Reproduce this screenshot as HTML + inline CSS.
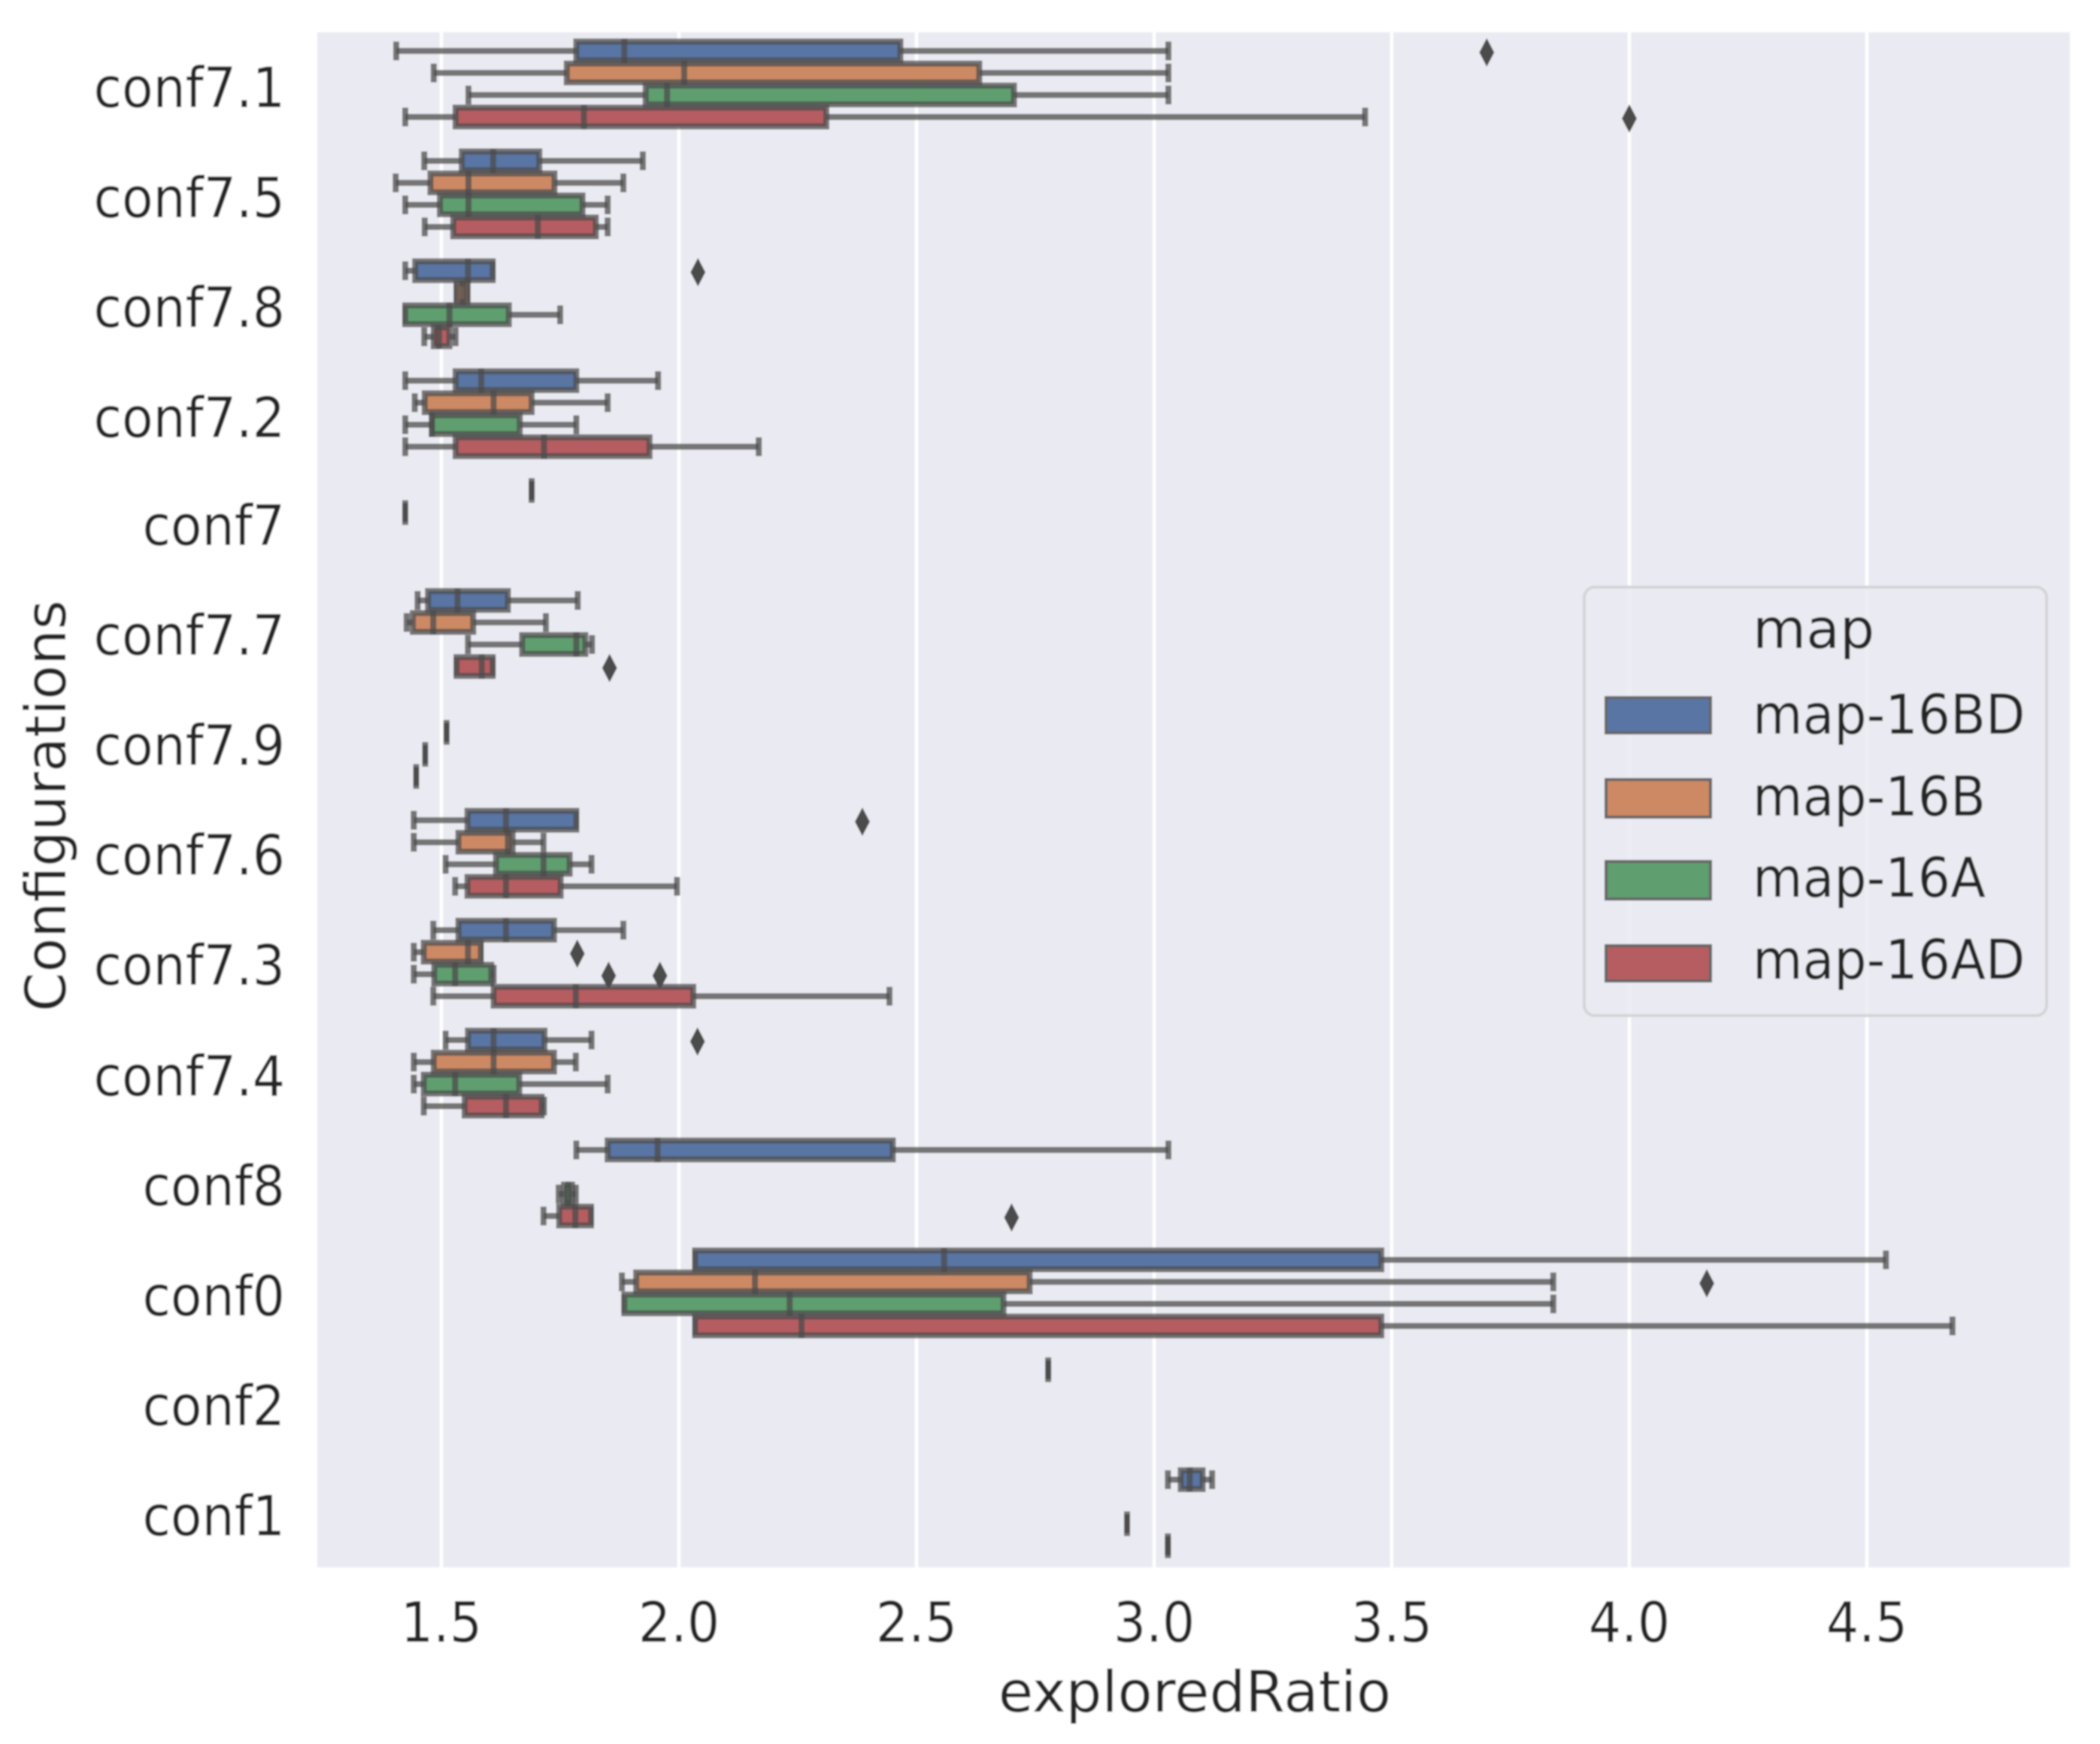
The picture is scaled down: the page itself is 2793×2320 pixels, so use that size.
<!DOCTYPE html>
<html>
<head>
<meta charset="utf-8">
<title>exploredRatio by configuration</title>
<style>
html,body{margin:0;padding:0;background:#fff;}
svg{display:block;}
text{font-family:"DejaVu Sans","Liberation Sans",sans-serif;fill:#262626;}
</style>
</head>
<body>
<svg id="chart" xmlns="http://www.w3.org/2000/svg" width="2793" height="2320" viewBox="0 0 2793 2320">
<defs>
<filter id="soft" filterUnits="userSpaceOnUse" x="0" y="0" width="2793" height="2320"><feGaussianBlur stdDeviation="1"/></filter>
</defs>
<g id="root" filter="url(#soft)">
<rect x="0" y="0" width="2793" height="2320" fill="#ffffff"/>
<rect x="422" y="43" width="2331" height="2042" fill="#eaeaf2"/>
<g id="grid"></g>
<g id="marks"></g>
<g id="yticks"></g>
<g id="xticks"></g>
<text x="1589" y="2277" font-size="75.5" text-anchor="middle">exploredRatio</text>
<text transform="translate(87,1072) rotate(-90)" font-size="75" text-anchor="middle">Configurations</text>
<g id="legend">
<rect x="2107" y="781" width="615" height="570" rx="14" ry="14" fill="#eaeaf2" fill-opacity="0.85" stroke="#d4d4d8" stroke-width="4"/>
<text transform="translate(2331,862) scale(1,1)" font-size="73">map</text>
<g>
<rect x="2136" y="928" width="139" height="47" fill="#5975a4" stroke="#666666" stroke-width="4"/>
<text transform="translate(2331,976) scale(0.935,1)" font-size="73">map-16BD</text>
</g>
<g>
<rect x="2136" y="1037" width="139" height="50" fill="#cc8963" stroke="#666666" stroke-width="4"/>
<text transform="translate(2331,1085) scale(0.935,1)" font-size="73">map-16B</text>
</g>
<g>
<rect x="2136" y="1146" width="139" height="50" fill="#5f9e6e" stroke="#666666" stroke-width="4"/>
<text transform="translate(2331,1193) scale(0.935,1)" font-size="73">map-16A</text>
</g>
<g>
<rect x="2136" y="1258" width="139" height="47" fill="#b55d60" stroke="#666666" stroke-width="4"/>
<text transform="translate(2331,1302) scale(0.935,1)" font-size="73">map-16AD</text>
</g>
</g>
</g>
</svg>
<script>
const categories = ["conf7.1","conf7.5","conf7.8","conf7.2","conf7","conf7.7","conf7.9","conf7.6","conf7.3","conf7.4","conf8","conf0","conf2","conf1"];
const hues = ["map-16BD","map-16B","map-16A","map-16AD"];
const xTickValues = [1.5,2.0,2.5,3.0,3.5,4.0,4.5];
const xTickLabels = ["1.5","2.0","2.5","3.0","3.5","4.0","4.5"];

// each entry: [whisker low, q1, median, q3, whisker high]; null = no data for that configuration
const statsBD = [
  [1.405,1.784,1.885,2.466,3.03],
  [1.464,1.543,1.609,1.706,1.924],
  [1.424,1.445,1.556,1.608,1.608],
  [1.424,1.53,1.584,1.784,1.956],
  [1.69,1.69,1.69,1.69,1.69],
  [1.45,1.472,1.534,1.64,1.787],
  null,
  [1.442,1.555,1.636,1.784,1.784],
  [1.483,1.536,1.636,1.737,1.883],
  [1.509,1.556,1.61,1.717,1.816],
  [1.784,1.85,1.955,2.45,3.03],
  [2.034,2.034,2.558,3.478,4.54],
  [2.777,2.777,2.777,2.777,2.777],
  [3.029,3.056,3.075,3.102,3.122]
];
const statsB = [
  [1.484,1.764,2.011,2.632,3.03],
  [1.404,1.477,1.557,1.738,1.883],
  [1.532,1.532,1.545,1.555,1.555],
  [1.444,1.465,1.61,1.69,1.85],
  [1.424,1.424,1.424,1.424,1.424],
  [1.427,1.44,1.483,1.567,1.72],
  [1.511,1.511,1.511,1.511,1.511],
  [1.442,1.536,1.64,1.65,1.715],
  [1.442,1.463,1.556,1.583,1.583],
  [1.442,1.484,1.61,1.737,1.783],
  null,
  [1.88,1.91,2.16,2.738,3.84],
  null,
  null
];
const statsA = [
  [1.557,1.93,1.975,2.705,3.03],
  [1.424,1.497,1.557,1.797,1.85],
  [1.424,1.424,1.517,1.642,1.75],
  [1.424,1.48,1.48,1.665,1.784],
  null,
  [1.556,1.67,1.784,1.803,1.817],
  [1.466,1.466,1.466,1.466,1.466],
  [1.509,1.615,1.715,1.77,1.816],
  [1.442,1.485,1.529,1.605,1.61],
  [1.442,1.463,1.529,1.664,1.85],
  [1.747,1.758,1.767,1.775,1.783],
  [1.885,1.885,2.233,2.683,3.84],
  null,
  [2.943,2.943,2.943,2.943,2.943]
];
const statsAD = [
  [1.424,1.53,1.80,2.31,3.444],
  [1.465,1.525,1.703,1.825,1.85],
  [1.464,1.484,1.495,1.517,1.53],
  [1.424,1.53,1.716,1.938,2.168],
  null,
  [1.532,1.532,1.585,1.608,1.608],
  [1.447,1.447,1.447,1.447,1.447],
  [1.529,1.555,1.636,1.751,1.996],
  [1.483,1.61,1.783,2.03,2.443],
  [1.463,1.549,1.636,1.711,1.716],
  [1.715,1.748,1.782,1.815,1.815],
  [2.034,2.034,2.258,3.478,4.68],
  null,
  [3.029,3.029,3.029,3.029,3.029]
];

// outliers as [category index, value]
const fliersBD = [[0,3.70],[2,2.04],[7,2.386],[9,2.039]];
const fliersB = [[8,1.786],[11,4.163]];
const fliersA = [[8,1.852],[8,1.96]];
const fliersAD = [[0,4.0],[5,1.854],[10,2.70]];

const seriesStats = [statsBD,statsB,statsA,statsAD];
const seriesFliers = [fliersBD,fliersB,fliersA,fliersAD];
const seriesColors = ["#5975a4","#cc8963","#5f9e6e","#b55d60"];

const NS = "http://www.w3.org/2000/svg";
const LINE = "rgba(76,76,76,0.75)";
const SW = 8;
const BOX_H = 25;
const CAP_H = 25;

function xScale(v){ return 587 + (v - 1.5) * 632; }
function catScale(i){ return 111.7 + 146.2 * i; }
function rowScale(i,h){ return catScale(i) + (h - 1.5) * 29.3; }
function labelBaseline(i){
  const nudge = (i >= 4 && i <= 8) ? -2.5 : (i >= 9 ? -1 : 0);
  return catScale(i) + 31 + nudge;
}

function make(tag, attrs, parent){
  const n = document.createElementNS(NS, tag);
  for (const k in attrs) n.setAttribute(k, attrs[k]);
  parent.appendChild(n);
  return n;
}
function slug(s){ return s.toLowerCase().replace(/[^a-z0-9]+/g,'-'); }

const gridG = document.getElementById('grid');
const marksG = document.getElementById('marks');
const yticksG = document.getElementById('yticks');
const xticksG = document.getElementById('xticks');

xTickValues.forEach(function(v,i){
  const g = make('line',{x1:xScale(v),x2:xScale(v),y1:43,y2:2085,stroke:'#ffffff','stroke-width':4.5},gridG);
  
  
  const t = make('text',{x:0,y:0,'font-size':74,'text-anchor':'middle',transform:'translate('+xScale(v)+',2184) scale(0.92,1)'},xticksG);
  t.textContent = xTickLabels[i];
  
  
});

categories.forEach(function(c,i){
  const t = make('text',{'font-size':74,'text-anchor':'end',transform:'translate(379,'+labelBaseline(i)+') scale(0.92,1)'},yticksG);
  t.textContent = c;
  
  
});

seriesStats.forEach(function(stats,h){
  const series = document.createElementNS(NS,'g');
  
  
  marksG.appendChild(series);
  stats.forEach(function(s,i){
    if (!s) return;
    const y = rowScale(i,h);
    const lo = xScale(s[0]), q1 = xScale(s[1]), med = xScale(s[2]), q3 = xScale(s[3]), hi = xScale(s[4]);
    const base = slug(categories[i]) + '-' + slug(hues[h]);
    const group = document.createElementNS(NS,'g');
    
    
    series.appendChild(group);

    const wl = make('line',{x1:lo,x2:q1,y1:y,y2:y,stroke:LINE,'stroke-width':SW},group);
    
    
    const wh = make('line',{x1:q3,x2:hi,y1:y,y2:y,stroke:LINE,'stroke-width':SW},group);
    
    
    const cl = make('line',{x1:lo,x2:lo,y1:y-CAP_H/2,y2:y+CAP_H/2,stroke:LINE,'stroke-width':SW},group);
    
    
    const ch = make('line',{x1:hi,x2:hi,y1:y-CAP_H/2,y2:y+CAP_H/2,stroke:LINE,'stroke-width':SW},group);
    
    
    const fill = make('rect',{x:q1,y:y-BOX_H/2,width:Math.max(q3-q1,0),height:BOX_H,fill:seriesColors[h]},group);
    
    
    const edge = make('rect',{x:q1,y:y-BOX_H/2,width:Math.max(q3-q1,0),height:BOX_H,fill:'none',stroke:LINE,'stroke-width':SW},group);
    
    
    const m = make('line',{x1:med,x2:med,y1:y-BOX_H/2-SW/2,y2:y+BOX_H/2+SW/2,stroke:LINE,'stroke-width':SW},group);
    
    
  });
  seriesFliers[h].forEach(function(f){
    const x = xScale(f[1]), y = rowScale(f[0],h) + 2;
    const d = make('path',{d:'M'+x+' '+(y-19)+'L'+(x+10)+' '+y+'L'+x+' '+(y+19)+'L'+(x-10)+' '+y+'Z',fill:'#4c4c4c'},series);
    
    
  });
});
</script>
</body>
</html>
